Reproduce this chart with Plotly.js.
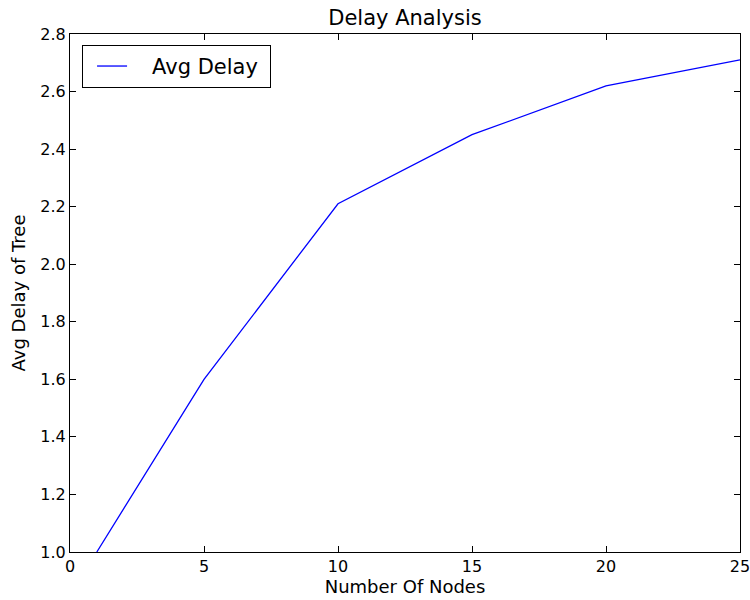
<!DOCTYPE html>
<html>
<head>
<meta charset="utf-8">
<script src="https://cdn.plot.ly/plotly-3.0.1.min.js"></script>
<style>html,body{margin:0;padding:0;background:#fff}#chart{width:750px;height:600px}</style>
</head>
<body>
<div id="chart"></div>
<script>
const nodes = [1, 5, 10, 15, 20, 25];
const avgDelay = [1.0, 1.6, 2.21, 2.45, 2.62, 2.71];
const seriesName = 'Avg Delay';
const xTicks = [0, 5, 10, 15, 20, 25];
const yTicks = [1.0, 1.2, 1.4, 1.6, 1.8, 2.0, 2.2, 2.4, 2.6, 2.8];

const font = 'DejaVu Sans, sans-serif';
const trace = {
  x: nodes, y: avgDelay, type: 'scatter', mode: 'lines',
  name: '\u00a0\u00a0\u00a0' + seriesName + '\u00a0',
  line: {color: '#0000ff', width: 1.3}
};
const axisCommon = {
  showline: true, linecolor: '#000', linewidth: 1, mirror: 'ticks',
  ticks: 'inside', ticklen: 6, tickcolor: '#000', tickwidth: 1,
  showgrid: false, zeroline: false, ticklabeloverflow: 'allow',
  tickfont: {family: font, size: 16, color: '#000'}
};
const layout = {
  width: 750, height: 600,
  margin: {l: 70, r: 10, t: 34, b: 48},
  paper_bgcolor: '#fff', plot_bgcolor: '#fff',
  title: {text: 'Delay Analysis', font: {family: font, size: 21, color: '#000'}, x: 0.54, xanchor: 'center', y: 0.97, yanchor: 'middle'},
  xaxis: Object.assign({}, axisCommon, {
    range: [0, 25], tickvals: xTicks, ticktext: xTicks.map(String),
    title: {text: 'Number Of Nodes', font: {family: font, size: 18, color: '#000'}, standoff: 2}
  }),
  yaxis: Object.assign({}, axisCommon, {
    range: [1.0, 2.8], tickvals: yTicks, ticktext: yTicks.map(v => v.toFixed(1)),
    title: {text: 'Avg Delay of Tree', font: {family: font, size: 18, color: '#000'}, standoff: 10}
  }),
  showlegend: true,
  legend: {
    x: 0.018, y: 0.979, xanchor: 'left', yanchor: 'top', indentation: 9,
    bordercolor: '#000', borderwidth: 1, bgcolor: '#fff',
    font: {family: font, size: 21, color: '#000'}
  }
};
Plotly.newPlot('chart', [trace], layout, {displayModeBar: false, staticPlot: true});
</script>
</body>
</html>
